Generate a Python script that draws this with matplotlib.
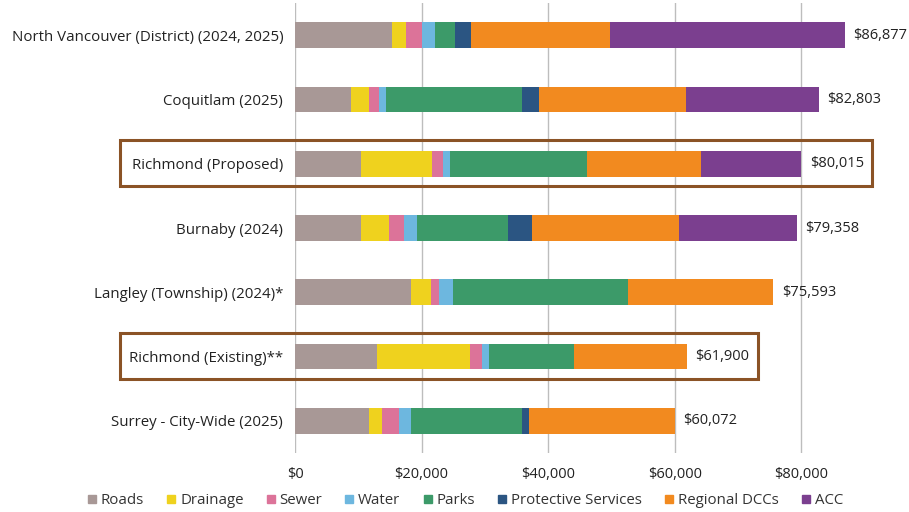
import matplotlib
matplotlib.use("Agg")
import matplotlib.pyplot as plt
from matplotlib.lines import Line2D
from matplotlib.patches import Rectangle
from matplotlib.ticker import FuncFormatter
import numpy as np

plt.rcParams['font.family'] = ['Open Sans', 'DejaVu Sans']

cities = [
    "North Vancouver (District) (2024, 2025)",
    "Coquitlam (2025)",
    "Richmond (Proposed)",
    "Burnaby (2024)",
    "Langley (Township) (2024)*",
    "Richmond (Existing)**",
    "Surrey - City-Wide (2025)",
]
totals = [86877, 82803, 80015, 79358, 75593, 61900, 60072]

components = ["Roads", "Drainage", "Sewer", "Water", "Parks",
              "Protective Services", "Regional DCCs", "ACC"]
colors = ["#A89896", "#EFD21E", "#DC7399", "#6DB7DF", "#3C9A69",
          "#2B5582", "#F28A1F", "#7B3F8F"]

roads      = [15300,  8900, 10500, 10400, 18400, 13000, 11700]
drainage   = [ 2200,  2850, 11100,  4400,  3100, 14600,  2100]
sewer      = [ 2600,  1450,  1800,  2400,  1300,  2000,  2700]
water      = [ 2000,  1200,  1100,  2000,  2200,  1100,  1800]
parks      = [ 3100, 21500, 21700, 14500, 27600, 13300, 17600]
protective = [ 2600,  2700,     0,  3800,     0,     0,  1100]
regional   = [22000, 23200, 18000, 23100, 22993, 17900, 23072]
acc        = [37077, 21003, 15815, 18758,     0,     0,     0]

series = [roads, drainage, sewer, water, parks, protective, regional, acc]
highlighted = ["Richmond (Proposed)", "Richmond (Existing)**"]

fig = plt.figure(figsize=(9.09, 5.12), dpi=100)
ax = fig.add_axes([295 / 909, 1 - 453 / 512, 1 - 295 / 909, (453 - 3) / 512])

y = np.arange(len(cities))
left = np.zeros(len(cities))
for vals, col in zip(series, colors):
    vals = np.array(vals, dtype=float)
    ax.barh(y, vals, left=left, height=0.4, color=col, zorder=3)
    left += vals

for i, t in enumerate(totals):
    ax.text(t + 1300, i, f"${t:,.0f}", va="center", ha="left",
            fontsize=10.5, color="#222222")

ax.set_xlim(0, 97000)
ax.set_ylim(len(cities) - 0.5, -0.5)
ax.set_yticks(y)
ax.set_yticklabels(cities, fontsize=10.8, color="#222222")
ax.set_xticks([0, 20000, 40000, 60000, 80000])
ax.xaxis.set_major_formatter(FuncFormatter(lambda v, p: f"${v:,.0f}"))
ax.tick_params(axis="x", length=0, labelsize=10.5, labelcolor="#222222", pad=10)
ax.tick_params(axis="y", length=0, pad=8.5)
ax.grid(axis="x", color="#BDBDBD", linewidth=1, zorder=0)
for s in ax.spines.values():
    s.set_visible(False)

# frames around the Richmond rows
for name in highlighted:
    i = cities.index(name)
    x0 = -27700
    x1 = totals[i] + 11200
    ax.add_patch(Rectangle((x0, i - 0.37), x1 - x0, 0.72, fill=False,
                           edgecolor="#8B5326", linewidth=2.2,
                           clip_on=False, zorder=4))

handles = [Line2D([], [], marker="s", linestyle="none", markersize=6,
                  markerfacecolor=c, markeredgecolor=c) for c in colors]
leg = fig.legend(handles, components, loc="center",
                 bbox_to_anchor=(0.51, 1 - 501 / 512),
                 ncol=8, frameon=False, fontsize=10.8, handletextpad=0.1,
                 columnspacing=1.3, handlelength=1.0)
for txt in leg.get_texts():
    txt.set_color("#333333")

fig.savefig("out.png", dpi=100)
